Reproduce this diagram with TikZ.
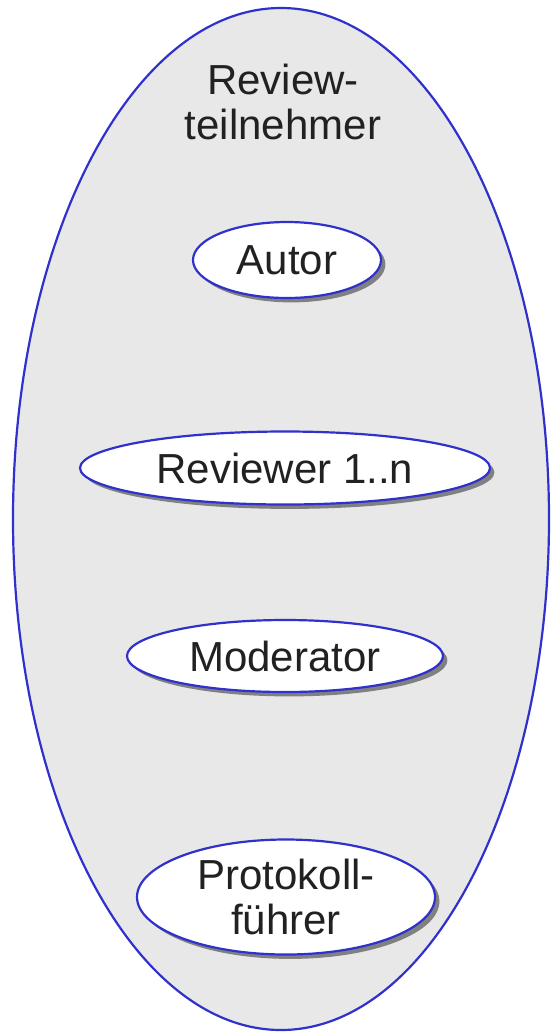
\documentclass[tikz,border=0pt]{standalone}
\usepackage{fontspec}
\setmainfont{Liberation Sans}
\usetikzlibrary{shapes.geometric,shadows}
\definecolor{rolecolor}{RGB}{48,48,204}

\begin{document}
\begin{tikzpicture}[x=0.5pt,y=-0.5pt,
    group_node/.style={ellipse,draw=rolecolor,fill=black!9,line width=1.1pt,inner sep=0pt},
    role_node/.style={ellipse,draw=rolecolor,fill=white,line width=1.1pt,inner sep=0pt,
        text=black!87,font=\fontsize{21}{22.5}\selectfont,align=center,
        drop shadow={shadow xshift=2.2pt,shadow yshift=-2.2pt,fill=black!50,opacity=1}}]

    \useasboundingbox (0,0) rectangle (551,1034);

    \node[group_node,minimum width=268pt,minimum height=511pt] (group) at (281,519) {};
    \node[text=black!87,font=\fontsize{21}{22.5}\selectfont,align=center] (title) at (283,102) {Review-\\teilnehmer};

    \node[role_node,minimum width=94pt,minimum height=38pt] (autor) at (287,260) {Autor};
    \node[role_node,minimum width=205pt,minimum height=36.5pt] (reviewer) at (285,468) {Reviewer 1..n};
    \node[role_node,minimum width=158pt,minimum height=36pt] (moderator) at (285,656) {Moderator};
    \node[role_node,minimum width=149pt,minimum height=57.5pt] (protokoll) at (286,897) {Protokoll-\\führer};
\end{tikzpicture}
\end{document}
